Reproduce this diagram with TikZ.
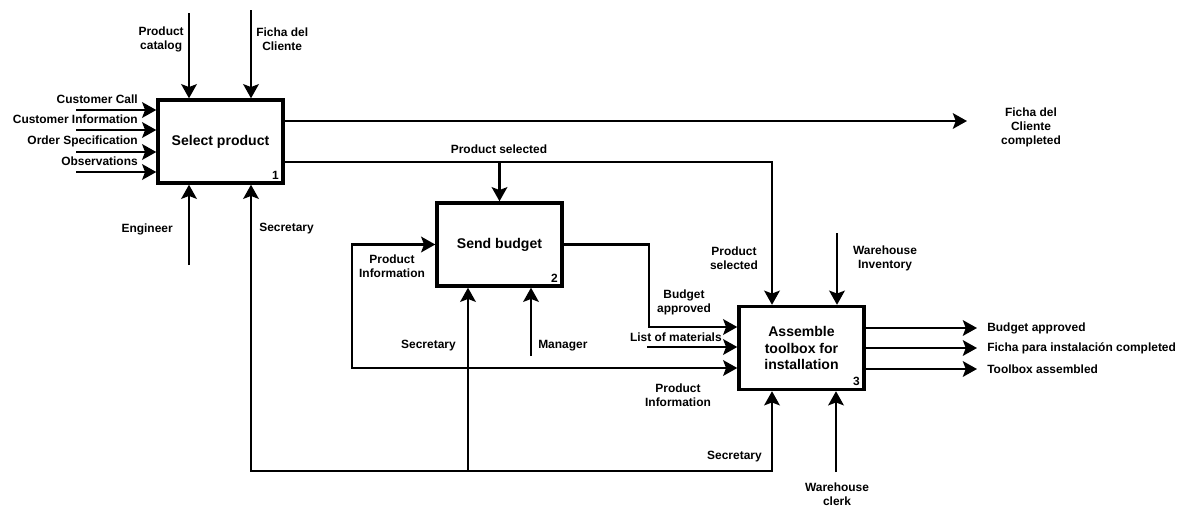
\documentclass[tikz,border=0pt]{standalone}
\usepackage{fontspec}
\setmainfont{Liberation Sans}
\usetikzlibrary{arrows.meta}

\tikzset{
 box/.style={draw, line width=2.4pt, minimum width=3.125cm, minimum height=2.075cm, align=center, inner sep=0pt, font=\bfseries\fontsize{10}{12}\selectfont},
 lbl/.style={align=center, inner sep=0pt, font=\bfseries\fontsize{8.5}{10}\selectfont},
 num/.style={anchor=south east, inner xsep=4pt, inner ysep=3.5pt, font=\bfseries\fontsize{8.5}{10}\selectfont},
 tip/.tip={Stealth[length=10pt,width=11pt,inset=2pt]},
 arr/.style={line width=2.1pt, -tip},
 arrs/.style={line width=2.1pt, tip-tip},
}

\begin{document}
\begin{tikzpicture}[x=0.025cm,y=-0.025cm]
\useasboundingbox (0,0) rectangle (1189,508);

%boxes
\node[box] (sel) at (220.5,141.5) {Select product};
\node[num] (n1) at (sel.south east) {1};
\node[box] (bud) at (499.5,244.5) {Send budget};
\node[num] (n2) at (bud.south east) {2};
\node[box] (asm) at (801.5,348) {Assemble\\toolbox for\\installation};
\node[num] (n3) at (asm.south east) {3};

%select product
\coordinate (cat) at (189,13);
\coordinate (fic) at (251,10);
\draw[arr] (cat) -- (cat |- sel.north);
\draw[arr] (fic) -- (fic |- sel.north);
\node[lbl, anchor=east] (lcat) at (184,39) {Product\\catalog};
\node[lbl, anchor=west] (lfic) at (256,39) {Ficha del\\Cliente};
\foreach \y/\txt [count=\i] in {110/Customer Call, 130/Customer Information, 152/Order Specification, 172/Observations} {
 \coordinate (in\i) at (76,\y);
 \draw[arr] (in\i) -- (in\i -| sel.west);
 \node[lbl, anchor=east] (lin\i) at (138,\y-11) {\txt};
}
\coordinate (eng) at (189,265);
\draw[arr] (eng) -- (eng |- sel.south);
\node[lbl, anchor=east] (leng) at (173,229) {Engineer};
\node[lbl, anchor=west] (lsec1) at (259,229) {Secretary};

%outputs of select product
\coordinate (fcc) at (967,121);
\draw[arr] (sel.east |- fcc) -- (fcc);
\node[lbl] (lfcc) at (1031,127) {Ficha del\\Cliente\\completed};
\coordinate (ps) at (772,162);
\draw[arr] (sel.east |- ps) -- (ps) -- (ps |- asm.north);
\draw[arr] (bud.north |- ps) -- (bud.north);
\node[lbl] (lps1) at (499,149) {Product selected};
\node[lbl] (lps2) at (734,258) {Product\\selected};

%send budget
\coordinate (pi) at (352,368);
\draw[arrs] (bud.west) -- (bud.west -| pi) -- (pi) -- (pi -| asm.west);
\node[lbl] (lpi1) at (392,266) {Product\\Information};
\node[lbl] (lpi2) at (678,395) {Product\\Information};
\coordinate (ba) at (649,327);
\draw[arr] (bud.east) -- (bud.east -| ba) -- (ba) -- (ba -| asm.west);
\node[lbl] (lba) at (684,302) {Budget\\approved};
\coordinate (mat) at (647,347);
\draw[arr] (mat) -- (mat -| asm.west);
\node[lbl, anchor=east] (lmat) at (722,337) {List of materials};
\coordinate (man) at (531,356);
\draw[arr] (man) -- (man |- bud.south);
\node[lbl, anchor=west] (lman) at (538,346) {Manager};

%secretary
\coordinate (s1) at (251,471);
\coordinate (s2) at (468,471);
\coordinate (s3) at (772,471);
\draw[arrs] (s1 |- sel.south) -- (s1) -- (s3) -- (s3 |- asm.south);
\draw[arr] (s2) -- (s2 |- bud.south);
\node[lbl, anchor=east] (lsec2) at (456,346) {Secretary};
\node[lbl, anchor=east] (lsec3) at (762,457) {Secretary};

%assemble toolbox
\coordinate (inv) at (837,233);
\draw[arr] (inv) -- (inv |- asm.north);
\node[lbl] (linv) at (885,258) {Warehouse\\Inventory};
\coordinate (clk) at (836,472);
\draw[arr] (clk) -- (clk |- asm.south);
\node[lbl] (lclk) at (837,494) {Warehouse\\clerk};
\foreach \y/\txt [count=\i] in {328/Budget approved, 348/Ficha para instalación completed, 369/Toolbox assembled} {
 \coordinate (out\i) at (977,\y);
 \draw[arr] (asm.east |- out\i) -- (out\i);
 \node[lbl, anchor=west] (lout\i) at (987,\y) {\txt};
}

\end{tikzpicture}
\end{document}
